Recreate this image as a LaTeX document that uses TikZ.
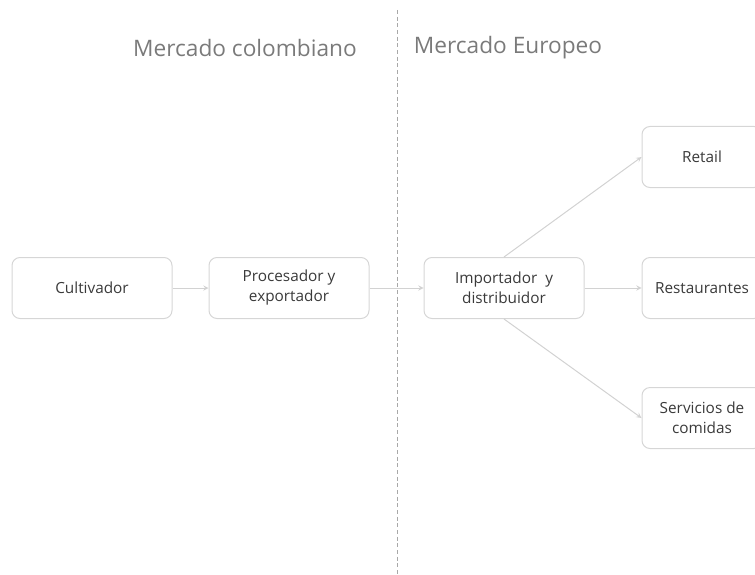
\documentclass[tikz,border=0pt]{standalone}
\usepackage{fontspec}
\setmainfont{Open Sans}
\tikzset{> = stealth}
\definecolor{boxline}{HTML}{D6D6D6}
\definecolor{arrowgray}{HTML}{D2D2D2}
\definecolor{boxtext}{HTML}{3A3A3A}
\definecolor{titlegray}{HTML}{7A7A7A}
\definecolor{bordergray}{HTML}{A8A8A8}

\begin{document}
\begin{tikzpicture}[x=0.75pt, y=-0.75pt,
  box/.style={draw=boxline, line width=0.75pt, rounded corners=6pt, minimum width=120pt, minimum height=45.75pt, align=center, text=boxtext, font=\fontsize{11.5}{15}\selectfont},
  shortbox/.style={box, minimum width=90pt},
  title/.style={text=titlegray, font=\fontsize{17}{20}\selectfont},
  flow/.style={color=arrowgray, line width=0.75pt, every edge/.append style={->}}]
\useasboundingbox (0,0) rectangle (755,574);
\clip (0,0) rectangle (755,574);
% titles
\node[title] (colombia) at (245,48) {Mercado colombiano};
\node[title] (europa) at (508,48) {Mercado Europeo};
% border between markets
\coordinate (top) at (397,10);
\coordinate (bottom) at (397,580);
\draw[bordergray, dashed, line width=0.6pt, dash pattern=on 3pt off 2pt] (top) -- (bottom);
% nodes
\node[box] (cult) at (92,288) {Cultivador};
\node[box] (proc) at (289,288) {Procesador y\\exportador};
\node[box] (imp) at (504,288) {Importador~ y\\distribuidor};
\node[shortbox] (retail) at (702,157) {Retail};
\node[shortbox] (rest) at (702,288) {Restaurantes};
\node[shortbox] (serv) at (702,418) {Servicios de\\comidas};
% edges
\draw[flow]
(cult) edge (proc)
(proc) edge (imp)
(imp) edge (rest)
(imp.north) edge (retail.west)
(imp.south) edge (serv.west);

\end{tikzpicture}
\end{document}
